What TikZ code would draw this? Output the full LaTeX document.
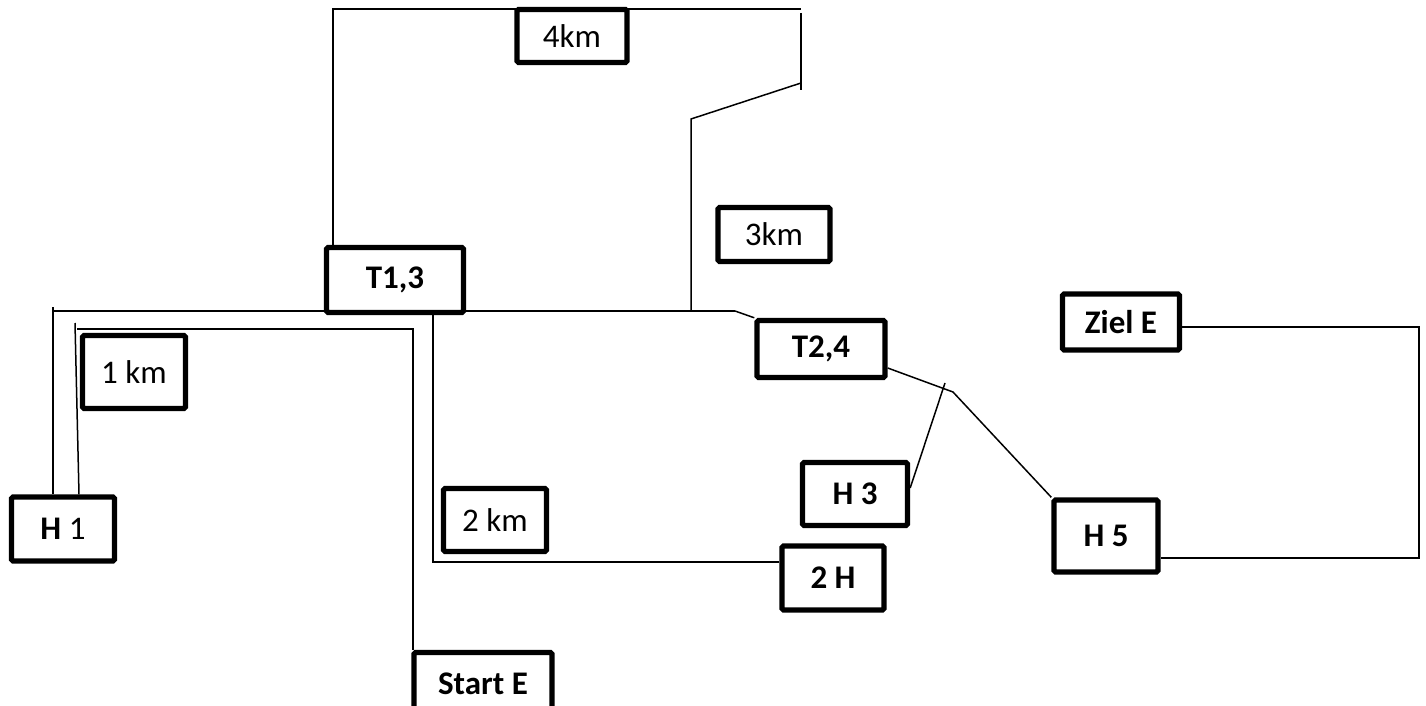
\documentclass[tikz,border=0pt]{standalone}
\usepackage{fontspec}
\setmainfont{Carlito}
\usetikzlibrary{positioning,calc}

\begin{document}
\begin{tikzpicture}[x=0.5pt,y=-0.5pt]
\tikzstyle{weg}=[line width=0.75pt]
\tikzstyle{kasten}=[draw,fill=white,line width=2.7pt,rounded corners=0.8pt,inner sep=0pt,font=\fontsize{16.5}{19}\selectfont]
\tikzstyle{ort}=[kasten,font=\fontsize{16.5}{19}\selectfont\bfseries]
\def\Px{0.5pt}
\useasboundingbox (0,0) rectangle (1426,706);
\clip (0,0) rectangle (1426,706);
% Kaesten
\node[ort] (T13) at (395,280) [minimum width=137*\Px,minimum height=65*\Px] {T1,3};
\node[kasten] (km4) at (572,36) [minimum width=110*\Px,minimum height=53*\Px] {4km};
\node[kasten] (km3) at (774,234.5) [minimum width=112*\Px,minimum height=54*\Px] {3km};
\node[ort] (T24) at (821,349) [minimum width=128*\Px,minimum height=57*\Px] {T2,4};
\node[ort] (ZE) at (1121,322) [minimum width=117*\Px,minimum height=56*\Px] {Ziel E};
\node[ort] (H3) at (855,494) [minimum width=105*\Px,minimum height=63*\Px] {H 3};
\node[ort] (H5) at (1106,536) [minimum width=104*\Px,minimum height=72*\Px] {H 5};
\node[ort] (H2) at (833,578) [minimum width=102*\Px,minimum height=64*\Px] {2 H};
\node[kasten] (km2) at (495,520) [minimum width=103*\Px,minimum height=63*\Px] {2 km};
\node[ort] (SE) at (483,684) [minimum width=138*\Px,minimum height=63*\Px] {Start E};
\node[kasten] (H1) at (63,529) [minimum width=103*\Px,minimum height=64*\Px] {\textbf{H} 1};
\node[kasten] (km1) at (134,372) [minimum width=103*\Px,minimum height=73*\Px] {1 km};
% Hilfspunkte der Wege
\coordinate (o1) at (333,9);
\coordinate (o2) at (801,9);
\coordinate (o3) at (801,13);
\coordinate (o4) at (801,90);
\coordinate (o5) at (801,83);
\coordinate (o6) at (691,119);
\coordinate (o7) at (691,311);
\coordinate (a1) at (53,307);
\coordinate (a2) at (52,311);
\coordinate (a3) at (735,311);
\coordinate (b1) at (75,323);
\coordinate (b2) at (79,329);
\coordinate (b3) at (77,329);
\coordinate (b4) at (413,329);
\coordinate (c1) at (433,562);
\coordinate (k1) at (887,368);
\coordinate (k2) at (953,392);
\coordinate (h1) at (909,488);
\coordinate (h2) at (945,383);
\coordinate (z1) at (1419,327);
\coordinate (z2) at (1419,558);
% Wege
\draw[weg] (a1) -- (H1.north -| a1);
\draw[weg] (a2) -- (a3);
\draw[weg] (b1) -- (H1.north -| b2);
\draw[weg] (b3) -- (b4) -- (SE.north -| b4);
\draw[weg] (T13.north -| o1) -- (o1) -- (o2);
\draw[weg] (o3) -- (o4);
\draw[weg] (o5) -- (o6) -- (o7);
\draw[weg] (T13.south -| c1) -- (c1) -- (H2.west |- c1);
\draw[weg] (a3) -- (T24.north west);
\draw[weg] (T24.east |- k1) -- (k2) -- (H5.north west);
\draw[weg] (H3.east |- h1) -- (h2);
\draw[weg] (ZE.east |- z1) -- (z1) -- (z2) -- (H5.east |- z2);
\end{tikzpicture}
\end{document}
